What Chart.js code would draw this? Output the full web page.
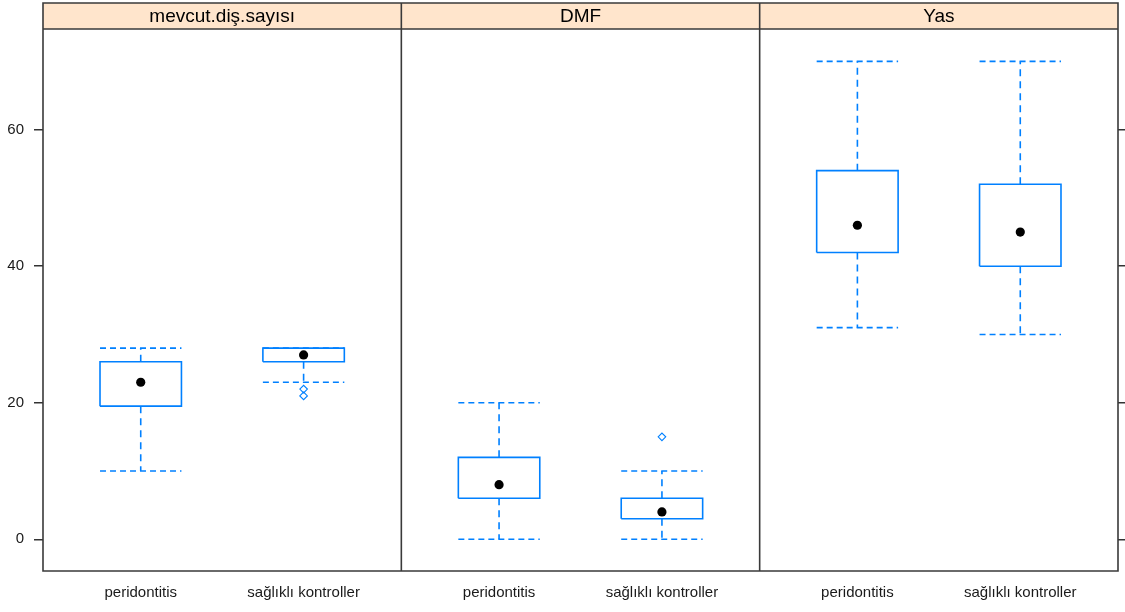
<!DOCTYPE html>
<html>
<head>
<meta charset="utf-8">
<script src="https://cdn.jsdelivr.net/npm/chart.js@4/dist/chart.umd.min.js"></script>
<style>
  html, body { margin: 0; padding: 0; background: #fff; }
  #wrap { width: 1125px; height: 612px; }
</style>
</head>
<body>
<div id="wrap"><canvas id="c" width="1125" height="612"></canvas></div>
<script>
// Panels (one per variable) and the two groups compared in each
const panels = ['mevcut.diş.sayısı', 'DMF', 'Yas'];
const groups = ['peridontitis', 'sağlıklı kontroller'];

// Box-and-whisker statistics, [panel][group]
const whiskerLow  = [[10, 23], [0, 0], [31, 30]];
const lowerHinge  = [[19.5, 26], [6, 3], [42, 40]];
const medians     = [[23, 27], [8, 4], [46, 45]];
const upperHinge  = [[26, 28], [12, 6], [54, 52]];
const whiskerHigh = [[28, 28], [20, 10], [70, 70]];
const outliers    = [[[], [22, 21]], [[], [15]], [[], []]];

// Y axis tick values
const yTicks = [0, 20, 40, 60];

// Each panel spans 2.2 units on the shared x scale (groups at 0.6 and 1.6)
const PANEL_W = 2.2;
const HALF_BOX = 0.25;
const groupX = (p, g) => p * PANEL_W + 0.6 + g;

const boxPts = [], stemPts = [], capPts = [], medPts = [], outPts = [];
const GAP = { x: null, y: null };
panels.forEach((_, p) => {
  groups.forEach((_, g) => {
    const x = groupX(p, g);
    const l = x - HALF_BOX, r = x + HALF_BOX;
    const q1 = lowerHinge[p][g], q3 = upperHinge[p][g];
    const lo = whiskerLow[p][g], hi = whiskerHigh[p][g];
    boxPts.push({ x: l, y: q1 }, { x: r, y: q1 }, { x: r, y: q3 }, { x: l, y: q3 }, { x: l, y: q1 }, GAP);
    if (q1 > lo) stemPts.push({ x, y: q1 }, { x, y: lo }, GAP);
    if (hi > q3) stemPts.push({ x, y: q3 }, { x, y: hi }, GAP);
    capPts.push({ x: l, y: lo }, { x: r, y: lo }, GAP);
    capPts.push({ x: l, y: hi }, { x: r, y: hi }, GAP);
    medPts.push({ x, y: medians[p][g] });
    outliers[p][g].forEach(v => outPts.push({ x, y: v }));
  });
});

const BLUE = '#0080ff';
const Y_MIN = -4.65, Y_MAX = 74.75;
const TICK_FONT = { family: '"Liberation Sans", Arial, sans-serif', size: 15 };

// Strips, panel frame and panel dividers
const latticeFrame = {
  id: 'latticeFrame',
  afterDraw(chart) {
    const { ctx, chartArea: a, scales } = chart;
    const stripTop = 3, stripBot = a.top;
    ctx.save();
    ctx.fillStyle = '#ffe5cc';
    ctx.fillRect(a.left, stripTop, a.right - a.left, stripBot - stripTop);
    ctx.strokeStyle = '#3a3a3a';
    ctx.lineWidth = 1.6;
    ctx.beginPath();
    ctx.rect(a.left, stripTop, a.right - a.left, a.bottom - stripTop);
    ctx.moveTo(a.left, stripBot); ctx.lineTo(a.right, stripBot);
    for (let p = 1; p < panels.length; p++) {
      const x = scales.x.getPixelForValue(p * PANEL_W);
      ctx.moveTo(x, stripTop); ctx.lineTo(x, a.bottom);
    }
    ctx.stroke();
    ctx.fillStyle = '#000';
    ctx.font = '19px "Liberation Sans", Arial, sans-serif';
    ctx.textAlign = 'center';
    ctx.textBaseline = 'middle';
    panels.forEach((name, p) => {
      const cx = scales.x.getPixelForValue(p * PANEL_W + PANEL_W / 2);
      ctx.fillText(name, cx, (stripTop + stripBot) / 2 + 1);
    });
    ctx.restore();
  }
};

new Chart(document.getElementById('c'), {
  type: 'scatter',
  data: {
    datasets: [
      { data: boxPts, showLine: true, borderColor: BLUE, borderWidth: 1.6, pointRadius: 0, fill: false },
      { data: stemPts, showLine: true, borderColor: BLUE, borderWidth: 1.6, borderDash: [7, 5], pointRadius: 0, fill: false },
      { data: capPts, showLine: true, borderColor: BLUE, borderWidth: 1.6, borderDash: [6, 4], pointRadius: 0, fill: false },
      { data: outPts, pointStyle: 'rectRot', pointRadius: 3.8, borderColor: BLUE, borderWidth: 1.1, backgroundColor: 'rgba(255,255,255,0)' },
      { data: medPts, pointStyle: 'circle', pointRadius: 4.6, borderColor: '#000', borderWidth: 0, backgroundColor: '#000' }
    ]
  },
  options: {
    responsive: false,
    animation: false,
    devicePixelRatio: 1,
    layout: { padding: { top: 29, left: 0, right: 0, bottom: 0 } },
    plugins: { legend: { display: false }, tooltip: { enabled: false } },
    scales: {
      x: {
        type: 'linear',
        min: 0,
        max: PANEL_W * panels.length,
        afterBuildTicks(scale) {
          const t = [];
          panels.forEach((_, p) => groups.forEach((_, g) => t.push({ value: groupX(p, g) })));
          scale.ticks = t;
        },
        afterFit(scale) { scale.height = 41; },
        grid: { display: false, drawTicks: false },
        border: { display: false },
        ticks: {
          autoSkip: false, maxRotation: 0, minRotation: 0, padding: 13,
          color: '#1a1a1a', font: TICK_FONT,
          callback: (v, i) => groups[i % groups.length]
        }
      },
      y: {
        type: 'linear',
        position: 'left',
        min: Y_MIN, max: Y_MAX,
        afterBuildTicks(scale) { scale.ticks = yTicks.map(v => ({ value: v })); },
        afterFit(scale) { scale.width = 43; },
        grid: { drawOnChartArea: false, drawTicks: true, tickLength: 9, color: '#333', lineWidth: 1.5 },
        border: { display: false },
        ticks: { padding: 10, color: '#1a1a1a', font: TICK_FONT }
      },
      y2: {
        type: 'linear',
        position: 'right',
        min: Y_MIN, max: Y_MAX,
        afterBuildTicks(scale) { scale.ticks = yTicks.map(v => ({ value: v })); },
        afterFit(scale) { scale.width = 7; },
        grid: { drawOnChartArea: false, drawTicks: true, tickLength: 7, color: '#333', lineWidth: 1.5 },
        border: { display: false },
        ticks: { padding: 0, font: TICK_FONT, callback: () => '' }
      }
    }
  },
  plugins: [latticeFrame]
});
</script>
</body>
</html>
